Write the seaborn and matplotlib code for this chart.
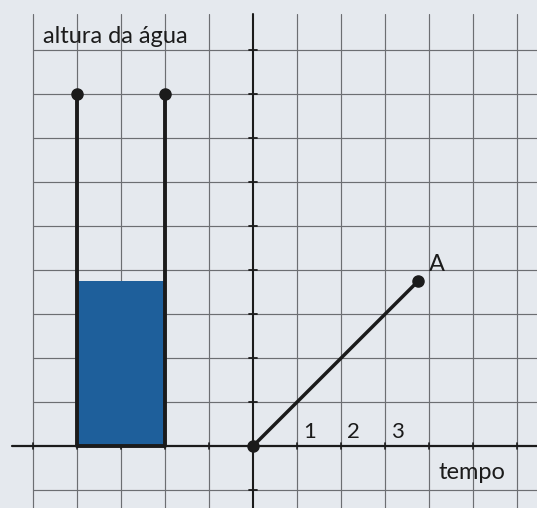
import matplotlib
matplotlib.use("Agg")
import matplotlib.pyplot as plt
import seaborn as sns
import pandas as pd

# Dados do gráfico
tempo = [0.0, 3.75]
altura = [0.0, 3.75]
rotulos_tempo = ["1", "2", "3"]
posicoes_tempo = [1, 2, 3]
paredes_x = [-4.0, -2.0]
topo_recipiente = 8.0
nivel_agua = altura[-1]

sns.set_theme(style="white")
plt.rcParams["font.family"] = ["Lato", "DejaVu Sans"]

fundo = "#e5e9ee"
grelha = "#6c6e72"
tinta = "#1b1b1b"
azul = "#1e5f9b"

fig = plt.figure(figsize=(5.37, 5.08), dpi=100, facecolor=fundo)
ax = fig.add_axes([0, 0, 1, 1])
ax.set_facecolor(fundo)
ax.set_xlim(-5.75, 6.45)
ax.set_ylim(-1.41, 10.14)
ax.axis("off")

# Quadrícula
topo_grelha = 9.82
for gx in range(-5, 7):
    if gx == 0:
        continue
    ax.plot([gx, gx], [-1.41, topo_grelha], color=grelha, lw=0.85, zorder=1)
for gy in range(-1, 10):
    if gy == 0:
        continue
    ax.plot([-5, 6.45], [gy, gy], color=grelha, lw=0.85, zorder=1)

# Eixos
ax.plot([-5.48, 6.45], [0, 0], color=tinta, lw=1.6, zorder=2)
ax.plot([0, 0], [-1.41, topo_grelha], color=tinta, lw=1.5, zorder=2)
for gy in range(-1, 10):
    ax.plot([-0.09, 0.09], [gy, gy], color=tinta, lw=1.3, zorder=2)
for gx in range(-5, 7):
    ax.plot([gx, gx], [-0.07, 0.07], color=tinta, lw=1.2, zorder=2)

# Recipiente com água
ax.fill_between(paredes_x, 0, nivel_agua, color=azul, lw=0, zorder=3)
ax.plot(paredes_x, [0, 0], color=tinta, lw=2.8, zorder=4, solid_capstyle="butt")
for px in paredes_x:
    parede = pd.DataFrame({"x": [px, px], "y": [0, topo_recipiente]})
    sns.lineplot(data=parede, x="x", y="y", ax=ax, color=tinta, lw=2.8,
                 sort=False, estimator=None, zorder=4)
    ax.plot([px], [topo_recipiente], "o", color=tinta, ms=8, zorder=5)

# Altura da água em função do tempo
serie = pd.DataFrame({"tempo": tempo, "altura": altura})
sns.lineplot(data=serie, x="tempo", y="altura", ax=ax, color=tinta, lw=2.5,
             sort=False, estimator=None, zorder=4)
ax.plot(tempo, altura, "o", color=tinta, ms=8, zorder=5, lw=0)

# Textos
for p, r in zip(posicoes_tempo, rotulos_tempo):
    ax.text(p + 0.28, 0.32, r, fontsize=16, color=tinta, ha="center", va="center")
ax.text(tempo[-1] + 0.42, altura[-1] + 0.38, "A", fontsize=17, color=tinta,
        ha="center", va="center")
ax.text(4.98, -0.6, "tempo", fontsize=17, color=tinta, ha="center", va="center")
ax.text(-4.77, 9.3, "altura da água", fontsize=17, color=tinta,
        ha="left", va="center")

fig.savefig("out.png", dpi=100, facecolor=fundo)
